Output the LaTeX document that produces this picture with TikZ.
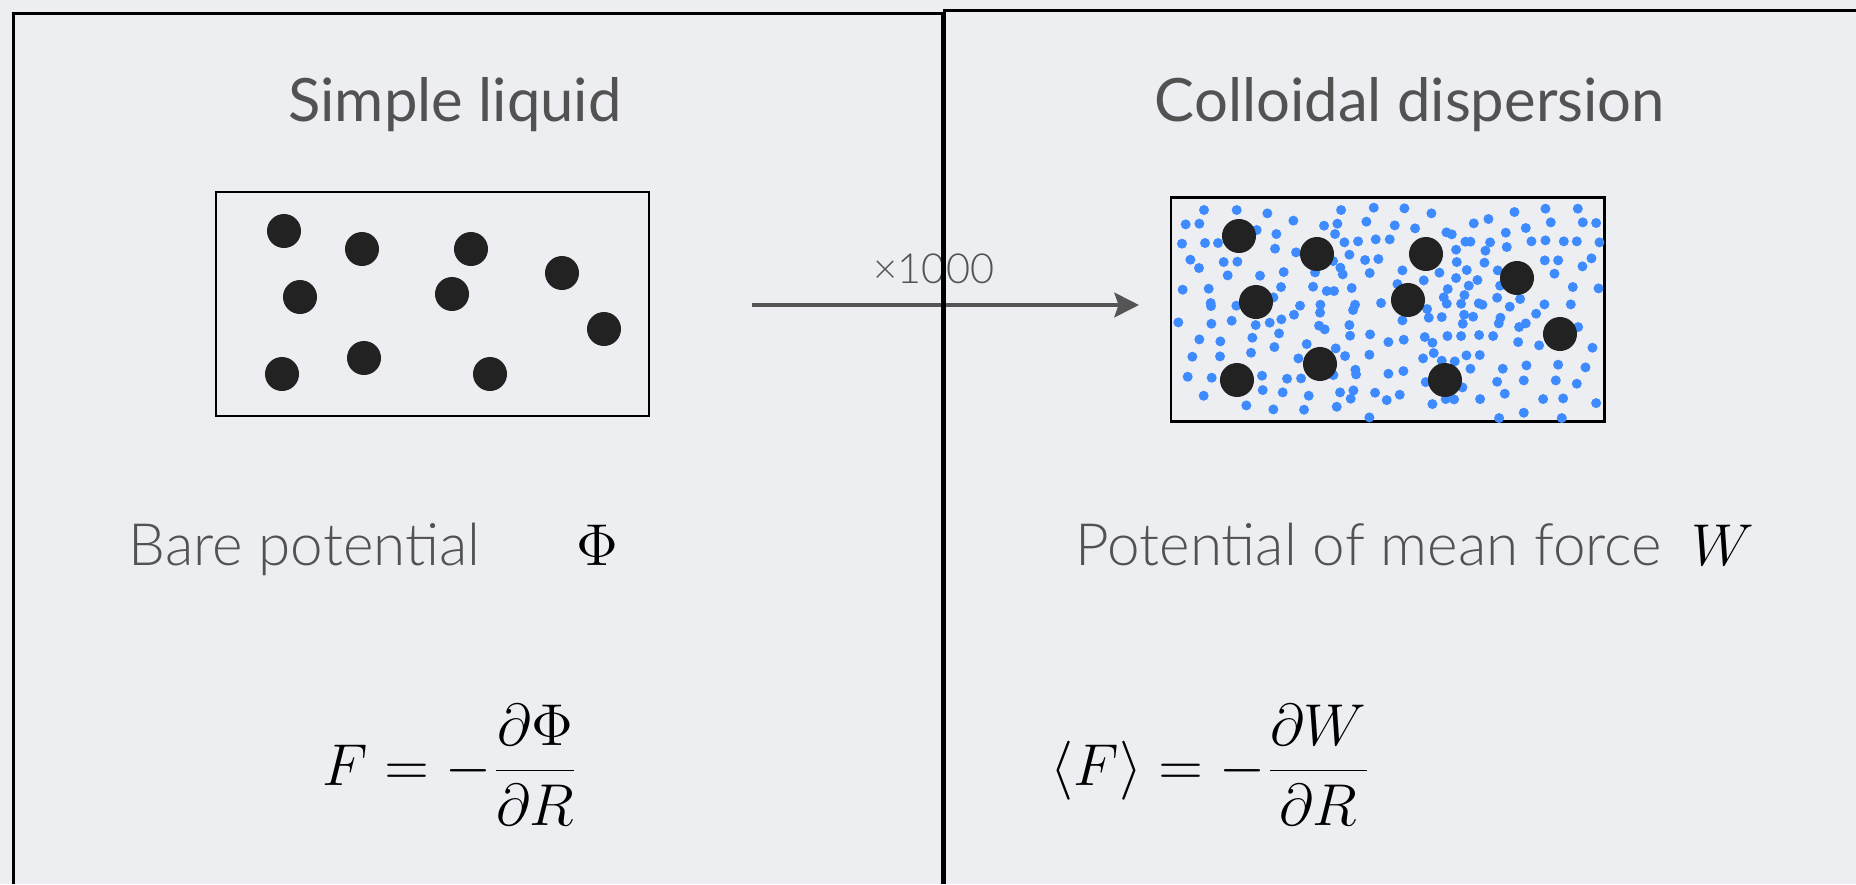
\documentclass[tikz,border=0pt]{standalone}
\usepackage{fix-cm}
\usepackage[no-math]{fontspec}
\setmainfont{Lato}
\newfontfamily\lightfont{Lato Light}
\usepackage{xcolor}
\usetikzlibrary{arrows.meta}
\definecolor{bg}{RGB}{237,238,241}
\definecolor{txtgray}{RGB}{82,82,82}
\definecolor{arrgray}{RGB}{85,85,85}
\definecolor{dotblue}{RGB}{62,139,255}
\definecolor{partblack}{RGB}{34,34,34}

\begin{document}
\begin{tikzpicture}[x=0.01cm, y=-0.01cm,
    panel/.style={draw=black, line width=0.85pt},
    simbox/.style={draw=black, line width=0.75pt},
    title/.style={font=\fontsize{17}{20}\selectfont, text=txtgray, inner sep=0pt},
    lbl/.style={font=\lightfont\fontsize{16.6}{20}\selectfont, text=txtgray, inner sep=0pt},
    eq/.style={font=\fontsize{16.8}{20}\selectfont, inner sep=0pt},
    particle/.style={fill=partblack},
    solvent/.style={fill=dotblue}]
  % background
  \useasboundingbox[fill=bg] (0,0) rectangle (1856,884);

  % titles
  \node[title, anchor=base] (ttlliq) at (455,121) {Simple liquid};
  \node[title, anchor=base] (ttlcol) at (1410,121) {Colloidal dispersion};

  % scale-up arrow
  \coordinate (arrfrom) at (752,305);
  \coordinate (arrto) at (1139,305);
  \draw[arrgray, line width=1.15pt, -{Stealth[length=7pt,width=7pt,inset=1.2pt]}] (arrfrom) -- (arrto);
  \node[lbl, text=arrgray, font=\lightfont\fontsize{11.8}{14}\selectfont, anchor=base] (scalelbl) at (934,283) {×1000};

  % simple liquid box
  \draw[simbox] (216,192) rectangle (649,416);
  \foreach \p in {(284,231),(362,249),(471,249),(562,273),(300,297),
                  (452,294),(604,329),(282,374),(364,358),(490,374)}
    \fill[particle] \p circle (1.7mm);

  % colloidal dispersion box: solvent first, then colloids
  \draw[simbox, line width=0.85pt] (1171,197) rectangle (1604,421);
  \begin{scope}[shift={(1160,180)}, x=0.03333mm, y=-0.03333mm]
    \foreach \p in {(132,90),(230,90),(322,100),(543,90),(641,83),(733,85),(814,100),(1063,96),(1156,86),(1253,86),
                    (77,133),(118,131),(400,122),(492,137),(532,131),(619,125),(704,136),(765,145),(941,130),(985,117),
                    (1097,144),(1172,127),(1268,127),(1308,129),(290,150),(349,162),(525,162),(859,157),(875,163),(1037,158),
                    (66,191),(135,189),(174,189),(345,206),(553,187),(594,184),(647,178),(689,178),(916,185),(931,185),
                    (990,187),(1040,201),(1114,184),(1156,181),(1211,184),(1250,184),(1318,187),
                    (408,217),(568,224),(519,243),(615,240),(655,237),(91,239),(191,246),(232,245),(888,209),
                    (976,212),(890,246),(973,248),(1154,241),(1194,241),(1294,235),(117,264),(541,263),(727,271),(1267,259),
                    (203,286),(300,287),(371,276),(465,277),(548,283),(629,279),(838,278),(920,270),(888,294),(952,300),
                    (1183,281),(1013,271),(791,301),
                    (68,329),(146,326),(363,321),(459,320),(500,333),(522,333),(575,324),(712,312),(863,327),(926,317),
                    (1020,317),(1238,321),(1315,325),
                    (340,352),(152,369),(153,378),(229,377),(481,374),(585,374),(663,369),(851,352),(860,371),(903,371),
                    (913,345),(956,370),(967,374),(1011,353),(1080,357),(1153,373),(1232,373),(1049,380),
                    (420,377),(402,404),(480,398),(579,390),(801,387),(806,413),(845,411),(912,404),(939,410),(1021,413),
                    (1128,401),(1016,430),(1097,430),(1077,441),
                    (55,427),(154,431),(215,422),(287,435),(329,428),(364,418),(477,437),(494,448),(568,435),(727,421),
                    (908,431),(1254,441),(357,460),(277,473),(570,467),(630,463),(794,471),(862,468),(903,468),(957,465),(999,468),
                    (118,478),(181,484),(343,501),(440,492),(527,505),(685,486),(731,479),(817,488),(1074,486),(1137,496),
                    (1297,503),(97,530),(180,529),(273,518),(415,535),(555,528),(628,524),(789,535),(821,519),(919,526),(959,525),
                    (845,542),(884,544),(931,566),(1028,566),(1099,556),(1194,554),(1276,562),(83,590),(155,593),(306,587),
                    (381,596),(423,595),(520,585),(586,569),(588,583),(685,581),(730,573),(1011,605),(1091,601),(1187,601),
                    (1250,611),(797,606),
                    (131,647),(308,630),(368,637),(446,647),(540,637),(580,631),(572,656),(645,638),(680,660),(719,644),
                    (857,657),(882,658),(907,622),(960,657),(1034,641),(1149,657),(1209,655),(1308,669),(259,676),(340,688),
                    (432,689),(530,680),(817,672),(1091,698),(628,712),(1017,714),(1205,714)}
      \fill[solvent] \p circle (0.5mm);
  \end{scope}
  \foreach \p in {(1239,236),(1317,254),(1426,254),(1517,278),(1256,302),
                  (1408,300),(1560,334),(1237,380),(1320,364),(1445,380)}
    \fill[particle] \p circle (1.7mm);

  % potentials
  \node[lbl, anchor=base west] (lblbare) at (128,565) {Bare potential};
  \node[eq, anchor=base] (phisym) at (597,565) {$\Phi$};
  \node[lbl, anchor=base west] (lblmean) at (1075,565) {Potential of mean force};
  \node[eq, anchor=base] (wsym) at (1723,565) {$W$};

  % forces
  \node[eq, anchor=west] (eqliq) at (322,765) {$\displaystyle F=-\frac{\partial\Phi}{\partial R}$};
  \node[eq, anchor=west] (eqcol) at (1050,765) {$\displaystyle \langle F\rangle=-\frac{\partial W}{\partial R}$};

  % panels
  \draw[panel] (13.5,884) -- (13.5,13.5) -- (942,13.5) -- (942,884);
  \draw[panel, line width=1.05pt] (944.5,884) -- (944.5,10.5) -- (1856,10.5);
\end{tikzpicture}
\end{document}
